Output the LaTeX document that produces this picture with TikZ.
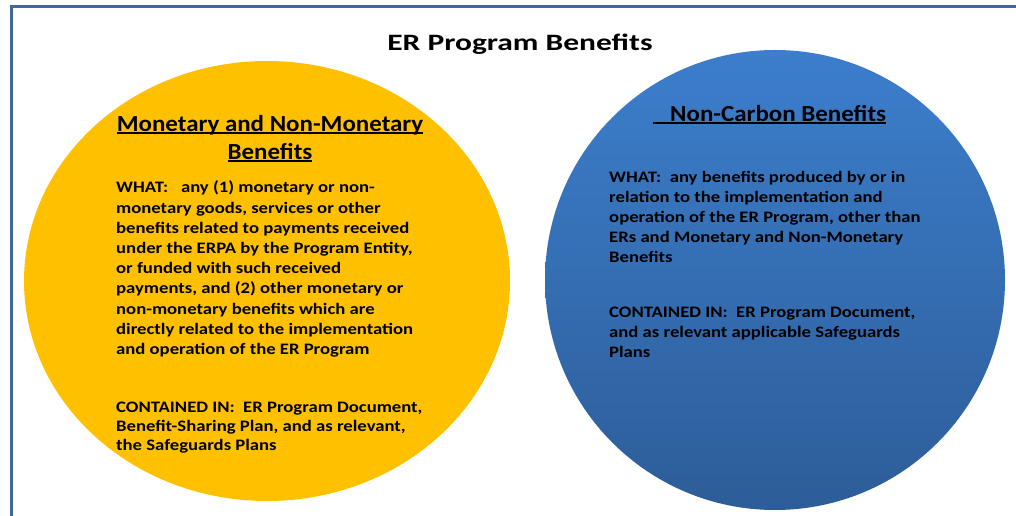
\documentclass[tikz,border=0pt]{standalone}
\usepackage{fontspec}
\setmainfont{Carlito}
\newfontfamily\titlefont[FakeStretch=1.34]{Carlito}
\newfontfamily\headfont[FakeStretch=1.085]{Carlito}
\newfontfamily\bodyfont[FakeStretch=1.167]{Carlito}
\usetikzlibrary{shapes.geometric}
\definecolor{framec}{HTML}{41679A}
\definecolor{gold}{HTML}{FFC000}
\definecolor{btop}{HTML}{3C7ECC}
\definecolor{bbot}{HTML}{2D5D98}
\newcommand\myul[1]{\setbox0\hbox{#1}\rlap{\rule[-2pt]{\wd0}{1.5pt}}\box0}
\newcommand\blkl[1]{\vtop{\halign{##\hfil\cr#1\crcr}}}
\newcommand\blkc[1]{\vtop{\halign{\hfil##\hfil\cr#1\crcr}}}
\tikzset{
  body/.style={anchor=base west, inner sep=0pt, font=\bodyfont\fontsize{16}{20.2}\selectfont\bfseries},
  head/.style={inner sep=0pt, font=\headfont\fontsize{23}{28}\selectfont\bfseries},
}
\begin{document}
\begin{tikzpicture}[x=1pt,y=1pt]
\useasboundingbox (0,0) rectangle (1016,516);
\draw[framec, line width=3pt] (1030,509.5) -- (11.5,509.5) -- (11.5,-10);
\node[ellipse, fill=gold, minimum width=486pt, minimum height=440pt, inner sep=0pt] (money) at (267,235) {};
\node[circle, minimum size=460pt, inner sep=0pt, top color=btop, bottom color=bbot] (noncarbon) at (775,236) {};
\node[anchor=base, inner sep=0pt, font=\titlefont\fontsize{23.5}{28}\selectfont\bfseries] (title) at (520,465) {ER Program Benefits};
\node[head, anchor=base] (mhead) at (270,384) {\blkc{\myul{Monetary and Non-Monetary}\cr\myul{Benefits}}};
\node[head, anchor=base west] (nhead) at (653,394) {\myul{\hspace{17pt}Non-Carbon Benefits}};
\node[body] (mwhat) at (116,323) {\blkl{%
WHAT:\ \ \ any (1) monetary or non-\cr
monetary goods, services or other\cr
benefits related to payments received\cr
under the ERPA by the Program Entity,\cr
or funded with such received\cr
payments, and (2) other monetary or\cr
non-monetary benefits which are\cr
directly related to the implementation\cr
and operation of the ER Program}};
\node[body, font=\bodyfont\fontsize{16}{19}\selectfont\bfseries] (mcont) at (116,103) {\blkl{%
CONTAINED IN:\ \ ER Program Document,\cr
Benefit-Sharing Plan, and as relevant,\cr
the Safeguards Plans}};
\node[body, font=\bodyfont\fontsize{16}{20}\selectfont\bfseries] (nwhat) at (609,333) {\blkl{%
WHAT:\ \ any benefits produced by or in\cr
relation to the implementation and\cr
operation of the ER Program, other than\cr
ERs and Monetary and Non-Monetary\cr
Benefits}};
\node[body, font=\bodyfont\fontsize{16}{20}\selectfont\bfseries] (ncont) at (609,198) {\blkl{%
CONTAINED IN:\ \ ER Program Document,\cr
and as relevant applicable Safeguards\cr
Plans}};
\end{tikzpicture}
\end{document}
